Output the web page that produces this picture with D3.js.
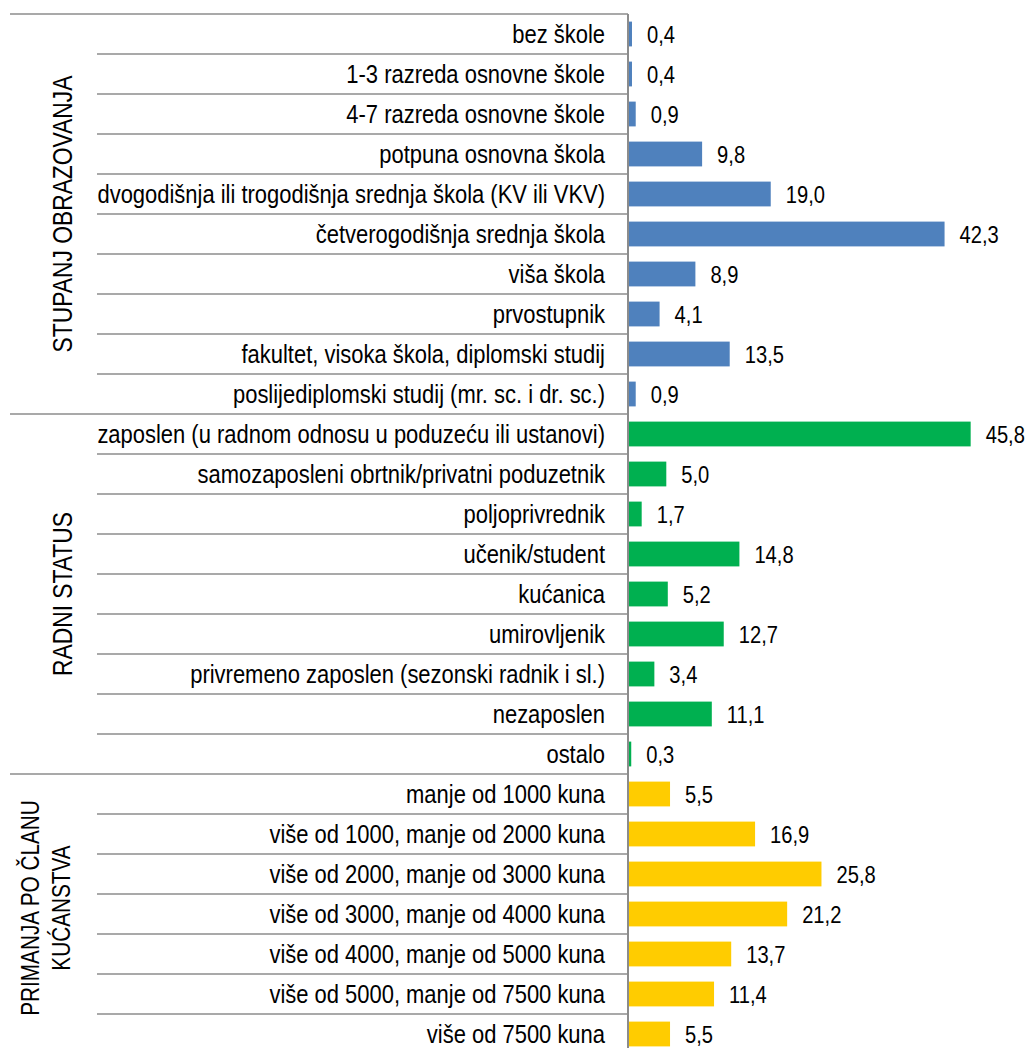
<!DOCTYPE html>
<html><head><meta charset="utf-8">
<script src="https://cdn.jsdelivr.net/npm/d3@7"></script>
<style>body{margin:0;background:#fff}svg{display:block}text{font-family:"Liberation Sans",Arial,sans-serif}</style>
</head><body><svg id="c" width="1031" height="1048"></svg>
<script>
const groups = ["STUPANJ OBRAZOVANJA", "RADNI STATUS", "PRIMANJA PO ČLANU|KUĆANSTVA"];
const groupColors = ["#4F81BD", "#00B050", "#FFCC00"];
const eduCategories = ["bez škole","1-3 razreda osnovne škole","4-7 razreda osnovne škole","potpuna osnovna škola","dvogodišnja ili trogodišnja srednja škola (KV ili VKV)","četverogodišnja srednja škola","viša škola","prvostupnik","fakultet, visoka škola, diplomski studij","poslijediplomski studij (mr. sc. i dr. sc.)"];
const eduValues = [0.4,0.4,0.9,9.8,19.0,42.3,8.9,4.1,13.5,0.9];
const statusCategories = ["zaposlen (u radnom odnosu u poduzeću ili ustanovi)","samozaposleni obrtnik/privatni poduzetnik","poljoprivrednik","učenik/student","kućanica","umirovljenik","privremeno zaposlen (sezonski radnik i sl.)","nezaposlen","ostalo"];
const statusValues = [45.8,5.0,1.7,14.8,5.2,12.7,3.4,11.1,0.3];
const incomeCategories = ["manje od 1000 kuna","više od 1000, manje od 2000 kuna","više od 2000, manje od 3000 kuna","više od 3000, manje od 4000 kuna","više od 4000, manje od 5000 kuna","više od 5000, manje od 7500 kuna","više od 7500 kuna"];
const incomeValues = [5.5,16.9,25.8,21.2,13.7,11.4,5.5];

const catsByGroup = [eduCategories, statusCategories, incomeCategories];
const valsByGroup = [eduValues, statusValues, incomeValues];
const rows = [];
catsByGroup.forEach((cs, g) => cs.forEach((c, i) => rows.push({key: g + "|" + i, label: c, value: valsByGroup[g][i], group: g, first: i === 0})));

const svg = d3.select("#c");
const topY = 14, rowH = 40;
const y = d3.scaleBand().domain(rows.map(r => r.key)).range([topY, topY + rowH * rows.length]).paddingInner(0.38).paddingOuter(0.19);
const yr = d3.scaleBand().domain(rows.map(r => r.key)).range([topY, topY + rowH * rows.length]);
const x0 = 629;
const x = d3.scaleLinear().domain([0, 50]).range([x0, x0 + 373]);
const fmt = v => d3.format(".1f")(v).replace(".", ",");
const SX = 0.84;

const lineColor = "#8c8c8c";
rows.forEach(r => {
  svg.append("line").attr("x1", r.first ? 10 : 97).attr("x2", x0 - 1)
    .attr("y1", yr(r.key)).attr("y2", yr(r.key)).attr("stroke", lineColor).attr("stroke-width", 1.5);
});
const last = rows[rows.length - 1];
svg.append("line").attr("x1", 10).attr("x2", x0 - 1).attr("y1", yr(last.key) + rowH).attr("y2", yr(last.key) + rowH).attr("stroke", lineColor).attr("stroke-width", 1.5);

svg.selectAll("rect.bar").data(rows).join("rect").attr("class", "bar")
  .attr("x", x(0)).attr("y", d => y(d.key)).attr("width", d => x(d.value) - x(0)).attr("height", y.bandwidth())
  .attr("fill", d => groupColors[d.group]);

svg.append("line").attr("x1", x0 - 1).attr("x2", x0 - 1).attr("y1", topY).attr("y2", 1048).attr("stroke", lineColor).attr("stroke-width", 2);

svg.selectAll("text.cat").data(rows).join("text").attr("class", "cat")
  .attr("transform", d => `translate(605,${yr(d.key) + rowH / 2 + 8.6}) scale(0.845,1)`)
  .attr("text-anchor", "end").attr("font-size", 26).attr("fill", "#000").text(d => d.label);

svg.selectAll("text.val").data(rows).join("text").attr("class", "val")
  .attr("transform", d => `translate(${x(d.value) + 15},${yr(d.key) + rowH / 2 + 8.6}) scale(${SX},1)`)
  .attr("font-size", 24).attr("fill", "#000").text(d => fmt(d.value));

const groupCenters = [214, 594, 908];
groups.forEach((g, i) => {
  const lines = g.split("|");
  const t = svg.append("text").attr("transform", `translate(${lines.length > 1 ? 39 : 72},${groupCenters[i]}) rotate(-90) scale(0.83,1)`)
    .attr("text-anchor", "middle").attr("font-size", lines.length > 1 ? 25 : 27.5).attr("fill", "#000");
  lines.forEach((l, j) => t.append("tspan").attr("x", 0).attr("dy", j === 0 ? 0 : 31).text(l));
});
</script></body></html>
